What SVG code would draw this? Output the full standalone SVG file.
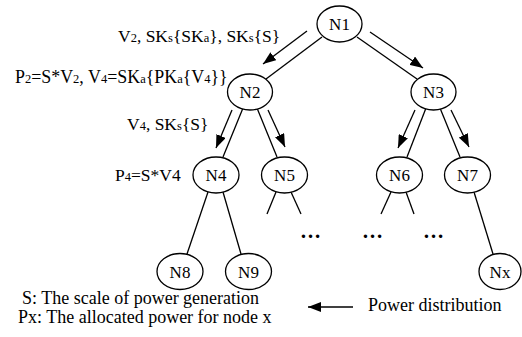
<svg xmlns="http://www.w3.org/2000/svg" width="522" height="337" viewBox="0 0 522 337">
<defs>
<marker id="ah" markerWidth="13" markerHeight="10" refX="13" refY="5" orient="auto" markerUnits="userSpaceOnUse">
<path d="M0,0 L13,5 L0,10 Z" fill="#000"/>
</marker>
<style>
text{font-family:"Liberation Serif","Times New Roman",serif;font-size:17.5px;fill:#000}
.s{font-size:12.5px}
.c{text-anchor:middle;font-size:17px}
.g{font-size:18px}
.w{font-size:17.9px}
ellipse{fill:#fff;stroke:#000;stroke-width:1.3}
line{stroke:#000;stroke-width:1.3}
.a{marker-end:url(#ah)}
.d{font-weight:bold;font-size:21px}
</style>
</defs>
<rect width="522" height="337" fill="#fff"/>
<g id="connectors">
<line x1="322" y1="37" x2="266" y2="79"/>
<line class="a" x1="307" y1="31" x2="263" y2="64"/>
<line x1="357" y1="37" x2="417" y2="79"/>
<line class="a" x1="370" y1="32" x2="423" y2="68"/>
<line x1="243" y1="108" x2="223" y2="157"/>
<line class="a" x1="232" y1="110" x2="216" y2="148"/>
<line x1="257" y1="108" x2="277" y2="157"/>
<line class="a" x1="268" y1="110" x2="285" y2="147"/>
<line x1="426" y1="108" x2="407" y2="157"/>
<line class="a" x1="415" y1="110" x2="398" y2="148"/>
<line x1="440" y1="108" x2="460" y2="157"/>
<line class="a" x1="451" y1="110" x2="469" y2="147"/>
<line x1="208" y1="192" x2="187" y2="254"/>
<line x1="223" y1="192" x2="241" y2="254"/>
<line x1="276" y1="192" x2="267" y2="214"/>
<line x1="291" y1="192" x2="301" y2="214"/>
<line x1="391" y1="192" x2="381" y2="214"/>
<line x1="406" y1="192" x2="414" y2="214"/>
<line x1="474" y1="192" x2="493" y2="254"/>
<line class="a" x1="353" y1="307" x2="308" y2="307"/>
</g>
<g id="N1"><ellipse cx="339.5" cy="24" rx="22.5" ry="18"/><text class="c" x="339.5" y="30">N1</text></g>
<g id="N2"><ellipse cx="250" cy="92" rx="22.5" ry="18"/><text class="c" x="250" y="98">N2</text></g>
<g id="N3"><ellipse cx="433.5" cy="92" rx="22.5" ry="18"/><text class="c" x="433.5" y="98">N3</text></g>
<g id="N4"><ellipse cx="216" cy="175" rx="23" ry="18"/><text class="c" x="216" y="181">N4</text></g>
<g id="N5"><ellipse cx="284.5" cy="175" rx="23" ry="18"/><text class="c" x="284.5" y="181">N5</text></g>
<g id="N6"><ellipse cx="399.5" cy="175" rx="23" ry="18"/><text class="c" x="399.5" y="181">N6</text></g>
<g id="N7"><ellipse cx="467.5" cy="175" rx="23" ry="18"/><text class="c" x="467.5" y="181">N7</text></g>
<g id="N8"><ellipse cx="180" cy="271.5" rx="23" ry="18"/><text class="c" x="180" y="277.5">N8</text></g>
<g id="N9"><ellipse cx="248.5" cy="271.5" rx="23" ry="18"/><text class="c" x="248.5" y="277.5">N9</text></g>
<g id="Nx"><ellipse cx="500" cy="271.5" rx="21" ry="18"/><text class="c" x="500" y="277.5">Nx</text></g>
<g id="labels">
<text x="118" y="42">V<tspan class="s">2</tspan>, SK<tspan class="s">s</tspan>{SK<tspan class="s">a</tspan>}, SK<tspan class="s">s</tspan>{S}</text>
<text class="w" x="15" y="83">P<tspan class="s">2</tspan>=S*V<tspan class="s">2</tspan>, V<tspan class="s">4</tspan>=SK<tspan class="s">a</tspan>{PK<tspan class="s">a</tspan>{V<tspan class="s">4</tspan>}}</text>
<text x="127" y="130">V<tspan class="s">4</tspan>, SK<tspan class="s">s</tspan>{S}</text>
<text x="115" y="181">P<tspan class="s">4</tspan>=S*V4</text>
<text class="d" x="300" y="238">…</text>
<text class="d" x="362" y="238">…</text>
<text class="d" x="423" y="238">…</text>
<text class="g" x="22" y="304">S: The scale of power generation</text>
<text class="g" x="18" y="323">Px: The allocated power for node x</text>
<text class="g" x="368" y="311">Power distribution</text>
</g>
</svg>
